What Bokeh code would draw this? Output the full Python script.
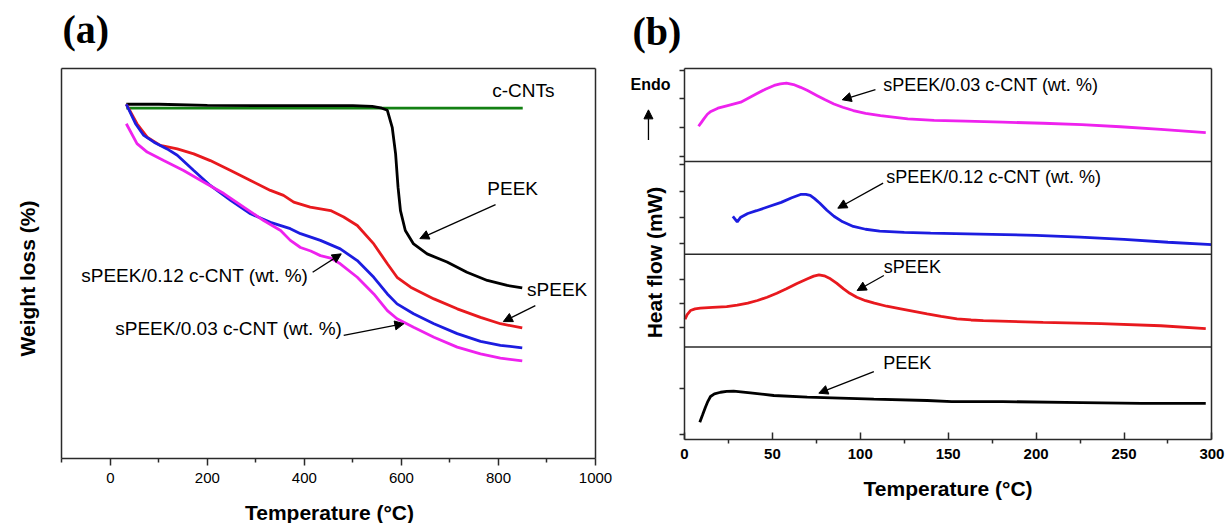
import math
from bokeh.plotting import figure
from bokeh.layouts import row
from bokeh.models import Label, Arrow, NormalHead, FixedTicker, Range1d, LinearAxis
from bokeh.embed import file_html
from bokeh.resources import INLINE

# ---------------- Panel (a): TGA ----------------
cnt_T = [33, 850]
cnt_W = [98.9, 98.9]

peek_T = [33, 100, 200, 300, 400, 500, 540, 557, 571, 581, 588, 593, 598, 608, 625, 653, 694, 735, 777, 818, 849]
peek_W = [100.0, 100.0, 99.7, 99.6, 99.6, 99.6, 99.4, 99.0, 98.3, 93.5, 86.0, 76.6, 70.0, 64.4, 60.6, 57.8, 55.5, 52.6, 50.3, 48.9, 48.2]

speek_T = [33, 55, 76, 103, 138, 172, 206, 248, 289, 330, 357, 378, 412, 454, 481, 509, 543, 571, 591, 619, 667, 715, 763, 804, 849]
speek_W = [100.0, 94.5, 90.7, 88.4, 87.4, 86.0, 84.1, 81.3, 78.5, 75.7, 74.3, 72.4, 71.0, 70.0, 68.2, 65.8, 60.6, 55.0, 51.2, 48.4, 45.1, 42.3, 39.9, 38.1, 36.9]

s012_T = [33, 52, 69, 90, 117, 138, 172, 206, 248, 289, 330, 371, 392, 433, 474, 509, 543, 571, 591, 625, 667, 715, 763, 804, 849]
s012_W = [100.0, 94.5, 91.2, 89.3, 87.4, 85.6, 81.3, 77.1, 72.9, 69.1, 66.7, 64.9, 63.5, 61.6, 59.2, 55.9, 51.2, 46.5, 43.7, 40.9, 38.1, 35.3, 33.1, 32.0, 31.3]

s003_T = [33, 55, 76, 110, 151, 193, 234, 275, 316, 351, 371, 392, 413, 433, 454, 474, 509, 543, 571, 591, 625, 667, 715, 763, 804, 849]
s003_W = [94.5, 88.9, 86.5, 84.1, 81.3, 78.0, 74.8, 71.0, 67.2, 64.4, 61.6, 59.6, 58.6, 57.3, 56.6, 55.0, 51.2, 46.5, 41.8, 39.5, 37.1, 34.3, 31.5, 29.6, 28.4, 27.6]

a_ticks = [0, 200, 400, 600, 800, 1000]
a_minor = [-100, 100, 300, 500, 700, 900]
a_xlim = (-100, 1000)
a_ylim = (0, 110)

# ---------------- Panel (b): DSC (each trace normalised within its strip) ----------------
dsc003_T = [8, 9.5, 11, 13, 15, 19, 24, 32, 41, 46, 51, 54.5, 58, 62, 66, 70, 75.5, 80, 85, 90, 96, 103,
            111.5, 127, 142, 160, 181, 204, 226, 248, 271, 296.5]
dsc003_H = [0.38, 0.42, 0.46, 0.51, 0.54, 0.575, 0.60, 0.64, 0.73, 0.78, 0.82, 0.838, 0.845, 0.83, 0.80, 0.765,
            0.71, 0.665, 0.62, 0.585, 0.55, 0.52, 0.495, 0.46, 0.443, 0.435, 0.425, 0.413, 0.398, 0.375, 0.346, 0.311]

dsc012_T = [27.5, 30, 32, 36, 41, 48, 55, 61, 66, 69, 71.5, 74, 77, 81, 85, 90, 96, 103, 111, 125, 140,
            175, 200, 225, 250, 275, 300]
dsc012_H = [0.41, 0.35, 0.40, 0.44, 0.47, 0.515, 0.56, 0.61, 0.645, 0.645, 0.635, 0.60, 0.55, 0.475, 0.41,
            0.35, 0.30, 0.27, 0.25, 0.237, 0.228, 0.215, 0.205, 0.185, 0.16, 0.13, 0.105]

dscs_T = [0.3, 1.5, 3.4, 6, 9, 16, 24, 30, 36, 41.5, 47, 52.5, 58, 64, 70, 73.5, 76.5, 79.5, 83, 86.5, 90.5,
          94, 98, 103, 108, 115, 123, 138, 146, 155, 163, 170, 204, 237, 271, 296.5]
dscs_H = [0.30, 0.35, 0.394, 0.412, 0.419, 0.428, 0.437, 0.452, 0.473, 0.502, 0.537, 0.58, 0.628, 0.685,
          0.736, 0.765, 0.779, 0.768, 0.736, 0.69, 0.628, 0.58, 0.537, 0.50, 0.473, 0.44, 0.412, 0.358,
          0.33, 0.305, 0.292, 0.285, 0.266, 0.252, 0.23, 0.198]

dscp_T = [8.7, 10.3, 11.9, 13.3, 14.8, 17, 20.5, 24, 28, 32, 37.5, 50.8, 69.8, 88.7, 107.7, 138, 152, 181,
          226, 260, 296.5]
dscp_H = [0.19, 0.27, 0.351, 0.415, 0.467, 0.495, 0.513, 0.522, 0.524, 0.518, 0.507, 0.478, 0.46, 0.449,
          0.438, 0.424, 0.412, 0.412, 0.402, 0.394, 0.394]

b_ticks = [0, 50, 100, 150, 200, 250, 300]
b_minor = [25, 75, 125, 175, 225, 275]
b_xlim = (0, 300)
b_ylim = (0, 4)
strip_edges = [1, 2, 3]

FONT = "Liberation Sans"
MAGENTA = "#ee22ee"
BLUE = "#1c1ce0"
RED = "#e8191e"
GREEN = "#138013"
FRAME = "#2a2a2a"
LW = 2.8


def add_text(p, x, y, text, size="19px", align="left", bold=False, font=FONT, angle=0.0):
    p.add_layout(Label(x=x, y=y, text=text, text_font=font, text_font_size=size,
                       text_align=align, text_baseline="middle", text_color="black", angle=angle,
                       text_font_style="bold" if bold else "normal"))


def add_arrow(p, x0, y0, x1, y1):
    p.add_layout(Arrow(end=NormalHead(size=9, fill_color="black", line_color="black", line_width=1),
                       x_start=x0, y_start=y0, x_end=x1, y_end=y1,
                       line_color="black", line_width=1.3))


def frame_axis(p, side, loc, bounds, ticker=None):
    ax = LinearAxis(fixed_location=loc, bounds=bounds,
                    ticker=ticker if ticker is not None else FixedTicker(ticks=[]))
    ax.axis_line_color = FRAME
    ax.axis_line_width = 1.5
    ax.major_tick_line_color = FRAME
    ax.minor_tick_line_color = FRAME
    ax.major_tick_line_width = 1.5
    ax.minor_tick_line_width = 1.5
    ax.major_label_text_color = "black"
    ax.major_label_text_font = FONT
    ax.major_tick_out = 0
    ax.major_tick_in = 0
    ax.minor_tick_out = 0
    ax.minor_tick_in = 0
    p.add_layout(ax, side)
    return ax


# ---------- figure (a): frame fills the whole canvas, box drawn by fixed axes ----------
p1 = figure(width=615, height=523, x_range=Range1d(-226.3, 1041.2), y_range=Range1d(-18.25, 129.26),
            output_backend="svg", toolbar_location=None, title=None,
            x_axis_location=None, y_axis_location=None, min_border=0)
p1.frame_align = False
p1.grid.visible = False
p1.outline_line_color = None

xa = frame_axis(p1, "below", a_ylim[0], a_xlim, FixedTicker(ticks=a_ticks, minor_ticks=a_minor))
xa.major_tick_out = 7
xa.minor_tick_out = 4
xa.major_label_text_font_size = "15px"
xa.major_label_standoff = 7
frame_axis(p1, "above", a_ylim[1], a_xlim)
frame_axis(p1, "left", a_xlim[0], a_ylim)
frame_axis(p1, "right", a_xlim[1], a_ylim)

p1.line(cnt_T, cnt_W, line_color=GREEN, line_width=LW)
p1.line(peek_T, peek_W, line_color="black", line_width=LW)
p1.line(speek_T, speek_W, line_color=RED, line_width=LW)
p1.line(s012_T, s012_W, line_color=BLUE, line_width=LW)
p1.line(s003_T, s003_W, line_color=MAGENTA, line_width=LW)

add_text(p1, -98.5, 121.1, "(a)", size="40px", bold=True, font="Liberation Serif")
add_text(p1, -170.7, 50.85, "Weight loss (%)", size="21px", align="center", bold=True, angle=math.pi / 2)
add_text(p1, 451.7, -15.15, "Temperature (°C)", size="21px", align="center", bold=True)

add_text(p1, 787, 103.8, "c-CNTs")
add_text(p1, 777, 76.2, "PEEK")
add_arrow(p1, 794, 71.7, 638, 62.1)
add_text(p1, 859, 47.7, "sPEEK")
add_arrow(p1, 876, 43.2, 810, 38.7)
add_text(p1, 408, 51.8, "sPEEK/0.12 c-CNT (wt. %)", align="right")
add_arrow(p1, 417, 52.6, 476, 57.8)
add_text(p1, 478, 36.7, "sPEEK/0.03 c-CNT (wt. %)", align="right")
add_arrow(p1, 481, 34.8, 605, 38.1)

# ---------- figure (b) ----------
p2 = figure(width=611, height=523, x_range=Range1d(-39.25, 308.3), y_range=Range1d(-0.902, 4.736),
            output_backend="svg", toolbar_location=None, title=None,
            x_axis_location=None, y_axis_location=None, min_border=0)
p2.frame_align = False
p2.grid.visible = False
p2.outline_line_color = None

xb = frame_axis(p2, "below", b_ylim[0], b_xlim, FixedTicker(ticks=b_ticks, minor_ticks=b_minor))
xb.major_tick_in = 7
xb.minor_tick_out = 4
xb.major_label_text_font_style = "bold"
xb.major_label_text_font_size = "15px"
xb.major_label_standoff = 5
frame_axis(p2, "above", b_ylim[1], b_xlim)
yb = frame_axis(p2, "left", b_xlim[0], b_ylim,
                FixedTicker(ticks=[], minor_ticks=[3.982, 3.677, 3.370, 3.054, 2.968, 2.677, 2.400,
                                                   2.113, 1.725, 1.466, 1.214, 0.550, 0.057]))
yb.minor_tick_out = 5
frame_axis(p2, "right", b_xlim[1], b_ylim)

# strip separators
p2.segment(x0=[b_xlim[0]] * 3, x1=[b_xlim[1]] * 3, y0=strip_edges, y1=strip_edges,
           line_color=FRAME, line_width=1.5)

p2.line(dsc003_T, [h + 3 for h in dsc003_H], line_color=MAGENTA, line_width=LW)
p2.line(dsc012_T, [h + 2 for h in dsc012_H], line_color=BLUE, line_width=LW)
p2.line(dscs_T, [h + 1 for h in dscs_H], line_color=RED, line_width=LW)
p2.line(dscp_T, dscp_H, line_color="black", line_width=LW)

add_text(p2, -29.6, 4.402, "(b)", size="40px", bold=True, font="Liberation Serif")
add_text(p2, -17.1, 1.912, "Heat flow (mW)", size="21px", align="center", bold=True, angle=math.pi / 2)
add_text(p2, 149.9, -0.525, "Temperature (°C)", size="21px", align="center", bold=True)

add_text(p2, 113, 3.82, "sPEEK/0.03 c-CNT (wt. %)", size="18px")
add_arrow(p2, 108.6, 3.774, 89.7, 3.666)
add_text(p2, 114.8, 2.831, "sPEEK/0.12 c-CNT (wt. %)", size="18px")
add_arrow(p2, 113, 2.767, 87.2, 2.497)
add_text(p2, 113.4, 1.861, "sPEEK", size="18px")
add_arrow(p2, 113.4, 1.771, 98.2, 1.61)
add_text(p2, 113, 0.826, "PEEK", size="18px")
add_arrow(p2, 107.7, 0.736, 76.4, 0.503)

add_text(p2, -19.3, 3.826, "Endo", size="16px", align="center", bold=True)
add_arrow(p2, -20.5, 3.232, -20.5, 3.557)

layout = row(p1, p2)
open("out.html", "w").write(file_html(layout, INLINE))
